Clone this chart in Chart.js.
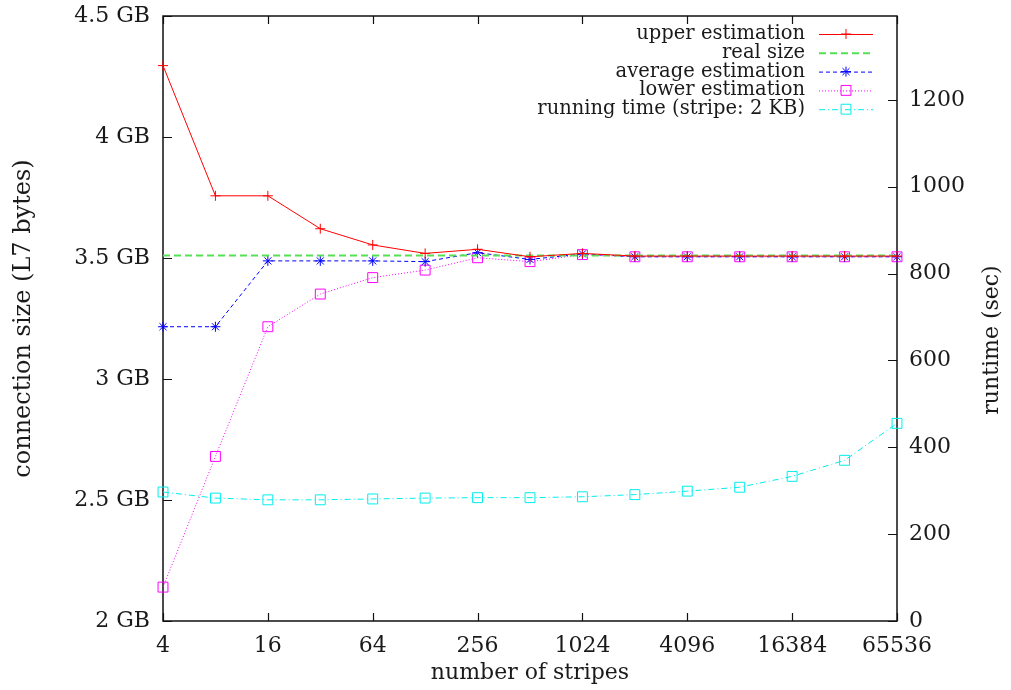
<!DOCTYPE html>
<html>
<head>
<meta charset="utf-8">
<script src="https://cdn.jsdelivr.net/npm/chart.js@4.4.0/dist/chart.umd.min.js"></script>
<style>
  html, body { margin: 0; padding: 0; background: #fff; }
  #wrap { width: 1011px; height: 690px; }
</style>
</head>
<body>
<div id="wrap"><canvas id="chart" width="1011" height="690"></canvas></div>
<script>
// data
const stripes = [4, 8, 16, 32, 64, 128, 256, 512, 1024, 2048, 4096, 8192, 16384, 32768, 65536];
const stripeTicks = [4, 16, 64, 256, 1024, 4096, 16384, 65536];
const sizeTicks = [2, 2.5, 3, 3.5, 4, 4.5];
const timeTicks = [0, 200, 400, 600, 800, 1000, 1200];

const upperEstimation = [4.295, 3.757, 3.757, 3.621, 3.554, 3.519, 3.536, 3.505, 3.519, 3.508, 3.508, 3.508, 3.508, 3.508, 3.508];
const realSize = [3.51, 3.51, 3.51, 3.51, 3.51, 3.51, 3.51, 3.51, 3.51, 3.51, 3.51, 3.51, 3.51, 3.51, 3.51];
const averageEstimation = [3.216, 3.216, 3.488, 3.488, 3.488, 3.485, 3.522, 3.494, 3.517, 3.505, 3.505, 3.505, 3.505, 3.505, 3.505];
const lowerEstimation = [2.14, 2.68, 3.216, 3.351, 3.419, 3.45, 3.501, 3.485, 3.514, 3.505, 3.505, 3.505, 3.505, 3.505, 3.505];
const runningTime = [297, 283, 279, 279, 281, 283, 284, 284, 286, 291, 299, 308, 333, 370, 455];

const FONT = "DejaVu Serif";
const TEXT = "#1a1a1a";

function pts(ys) {
  return stripes.map((x, i) => ({ x: x, y: ys[i] }));
}

const series = [
  { label: "upper estimation", data: upperEstimation, color: "#ff0000", dash: [], style: "cross", r: 5, width: 1 },
  { label: "real size", data: realSize, color: "#55e055", dash: [7, 4], style: false, r: 0, width: 2 },
  { label: "average estimation", data: averageEstimation, color: "#0000ff", dash: [4, 3], style: "star", r: 5, width: 1 },
  { label: "lower estimation", data: lowerEstimation, color: "#ff00ff", dash: [1, 2], style: "rect", r: 7, width: 1 },
  { label: "running time (stripe: 2 KB)", data: runningTime, color: "#00eeee", dash: [6, 3, 1, 3], style: "rect", r: 7, width: 1, axis: "y2" },
];

// keep the plot box where gnuplot put it
function noPad(s) {
  s.paddingTop = 0;
  s.paddingBottom = 0;
  s.paddingLeft = 0;
  s.paddingRight = 0;
}

// gnuplot style frame with inward ticks
const framePlugin = {
  id: "frame",
  beforeDatasetsDraw(chart) {
    const { ctx, chartArea: a, scales } = chart;
    ctx.save();
    ctx.strokeStyle = "#111";
    ctx.lineWidth = 1.5;
    ctx.setLineDash([]);
    ctx.strokeRect(a.left, a.top, a.right - a.left, a.bottom - a.top);
    ctx.lineWidth = 1.2;
    ctx.beginPath();
    stripeTicks.forEach((v) => {
      const x = Math.round(scales.x.getPixelForValue(v)) + 0.5;
      ctx.moveTo(x, a.bottom); ctx.lineTo(x, a.bottom - 8);
      ctx.moveTo(x, a.top); ctx.lineTo(x, a.top + 8);
    });
    sizeTicks.forEach((v) => {
      const y = Math.round(scales.y.getPixelForValue(v)) + 0.5;
      ctx.moveTo(a.left, y); ctx.lineTo(a.left + 9, y);
    });
    timeTicks.forEach((v) => {
      const y = Math.round(scales.y2.getPixelForValue(v)) + 0.5;
      ctx.moveTo(a.right, y); ctx.lineTo(a.right - 9, y);
    });
    ctx.stroke();
    ctx.restore();
  },
  afterDraw(chart) {
    const ctx = chart.ctx;
    ctx.save();
    // right axis title, reads bottom to top like the left one
    ctx.fillStyle = TEXT;
    ctx.font = "22px '" + FONT + "'";
    ctx.textAlign = "center";
    ctx.textBaseline = "middle";
    ctx.translate(992, 340);
    ctx.rotate(-Math.PI / 2);
    ctx.fillText("runtime (sec)", 0, 0);
    ctx.restore();

    // legend box in the top right corner
    ctx.save();
    ctx.font = "19.5px '" + FONT + "'";
    ctx.textAlign = "right";
    ctx.textBaseline = "middle";
    series.forEach((s, i) => {
      const y = 34 + i * 18.8;
      ctx.fillStyle = TEXT;
      ctx.fillText(s.label, 805, y);
      ctx.strokeStyle = s.color;
      ctx.lineWidth = s.width;
      ctx.setLineDash(s.dash);
      ctx.beginPath();
      ctx.moveTo(819, y + 0.5);
      ctx.lineTo(873, y + 0.5);
      ctx.stroke();
      ctx.setLineDash([]);
      if (s.style) {
        ctx.lineWidth = 1;
        ctx.fillStyle = "rgba(0,0,0,0)";
        Chart.helpers.drawPoint(ctx, { pointStyle: s.style, rotation: 0, radius: s.r, borderWidth: 1 }, 846, y);
      }
    });
    ctx.restore();
  },
};

new Chart(document.getElementById("chart"), {
  type: "line",
  data: {
    datasets: series.map((s) => ({
      label: s.label,
      data: pts(s.data),
      yAxisID: s.axis || "y",
      borderColor: s.color,
      borderWidth: s.width,
      borderDash: s.dash,
      backgroundColor: "rgba(0,0,0,0)",
      pointStyle: s.style,
      pointRadius: s.r,
      pointBorderColor: s.color,
      pointBackgroundColor: "rgba(0,0,0,0)",
      pointBorderWidth: 1,
      tension: 0,
      fill: false,
      clip: false,
    })),
  },
  options: {
    responsive: false,
    animation: false,
    devicePixelRatio: 1,
    layout: { padding: { top: 16, left: 0, right: 0, bottom: 0 } },
    plugins: { legend: { display: false }, tooltip: { enabled: false } },
    scales: {
      x: {
        type: "logarithmic",
        min: 4,
        max: 65536,
        afterBuildTicks: (s) => { s.ticks = stripeTicks.map((v) => ({ value: v })); },
        afterFit: (s) => { s.height = 69; noPad(s); },
        grid: { display: false, drawTicks: false },
        border: { display: false },
        ticks: {
          autoSkip: false, maxRotation: 0, padding: 12,
          color: TEXT, font: { family: FONT, size: 22 },
          callback: (v) => String(v),
        },
        title: {
          display: true, text: "number of stripes", color: TEXT,
          font: { family: FONT, size: 22, lineHeight: 1 },
          padding: { top: 0, bottom: 6 },
        },
      },
      y: {
        position: "left",
        min: 2,
        max: 4.5,
        afterBuildTicks: (s) => { s.ticks = sizeTicks.map((v) => ({ value: v })); },
        afterFit: (s) => { s.width = 163; noPad(s); },
        grid: { display: false, drawTicks: false },
        border: { display: false },
        ticks: {
          padding: 13, color: TEXT, font: { family: FONT, size: 22 },
          callback: (v) => v + " GB",
        },
        title: {
          display: true, text: "connection size (L7 bytes)", color: TEXT,
          font: { family: FONT, size: 24, lineHeight: 1 },
          padding: { top: 12, bottom: 0 },
        },
      },
      y2: {
        position: "right",
        min: 0,
        max: 1393,
        afterBuildTicks: (s) => { s.ticks = timeTicks.map((v) => ({ value: v })); },
        afterFit: (s) => { s.width = 114; noPad(s); },
        grid: { display: false, drawTicks: false },
        border: { display: false },
        ticks: {
          padding: 12, color: TEXT, font: { family: FONT, size: 22 },
          callback: (v) => String(v),
        },
      },
    },
  },
  plugins: [framePlugin],
});
</script>
</body>
</html>
